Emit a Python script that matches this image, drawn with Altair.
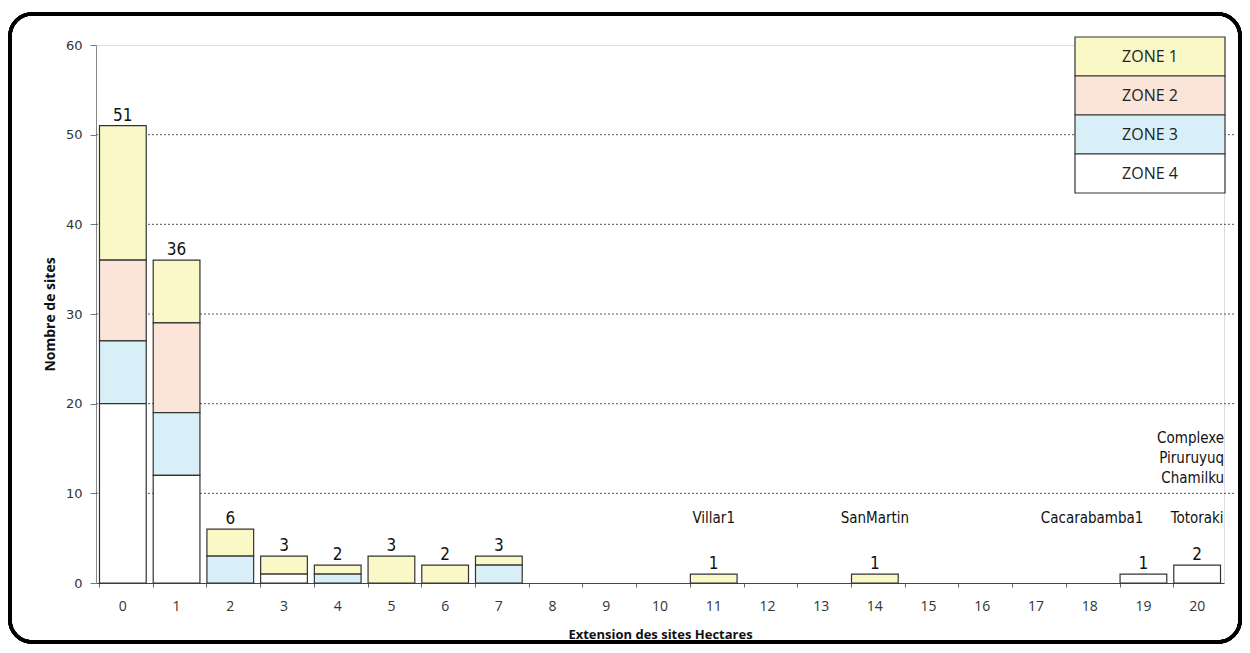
import altair as alt
import pandas as pd

# ---------------- data ----------------
categories = list(range(21))
zone_names = ["ZONE 1", "ZONE 2", "ZONE 3", "ZONE 4"]
zone1 = [15, 7, 3, 2, 1, 3, 2, 1, 0, 0, 0, 1, 0, 0, 1, 0, 0, 0, 0, 0, 0]
zone2 = [9, 10, 0, 0, 0, 0, 0, 0, 0, 0, 0, 0, 0, 0, 0, 0, 0, 0, 0, 0, 0]
zone3 = [7, 7, 3, 0, 1, 0, 0, 2, 0, 0, 0, 0, 0, 0, 0, 0, 0, 0, 0, 0, 0]
zone4 = [20, 12, 0, 1, 0, 0, 0, 0, 0, 0, 0, 0, 0, 0, 0, 0, 0, 0, 0, 1, 2]
zone_colors = ["#FAF8C6", "#FBE4D8", "#D9EFF7", "#FFFFFF"]

grid_values = [10, 20, 30, 40, 50]

ann_center_x = [11, 14, 20]
ann_center_y = [7.2, 7.2, 7.2]
ann_center_text = ["Villar1", "SanMartin", "Totoraki"]

ann_right_x = [19, 20, 20, 20]
ann_right_y = [7.2, 16.2, 13.95, 11.7]
ann_right_text = ["Cacarabamba1", "Complexe", "Piruruyuq", "Chamilku"]
ann_right_dx = [0, 27, 27, 27]

# ---------------- tables ----------------
rows = []
for zi, (zn, vals) in enumerate(zip(zone_names, [zone1, zone2, zone3, zone4])):
    for c, v in zip(categories, vals):
        if v > 0:
            rows.append({"size": c, "zone": zn, "count": v, "order": 4 - zi})
bars_df = pd.DataFrame(rows)

legend_df = pd.DataFrame({"zone": zone_names, "idx": list(range(4))})
grid_df = pd.DataFrame({"v": grid_values})
ann_c_df = pd.DataFrame({"size": ann_center_x, "y": ann_center_y, "t": ann_center_text})

narrow = "Liberation Sans Narrow, DejaVu Sans Condensed, sans-serif"

color_scale = alt.Scale(domain=zone_names, range=zone_colors)
x_enc = alt.X(
    "size:O",
    scale=alt.Scale(domain=categories, paddingInner=0.13, paddingOuter=0.065),
    axis=alt.Axis(
        title="Extension des sites Hectares",
        labelAngle=0,
        labelFont="Open Sans",
        labelFontSize=14,
        labelColor="#333",
        labelPadding=12,
        bandPosition=0,
        labelOverlap=False,
        labelBound=False,
        tickSize=4,
        tickColor="#666",
        domainColor="#444",
        titleFont="Open Sans",
        titleFontWeight="bold",
        titleFontSize=13,
        titleColor="#111",
        titlePadding=15,
    ),
)
y_scale = alt.Scale(domain=[0, 60])

grid = alt.Chart(grid_df).mark_rule(color="#555", strokeDash=[2, 2], strokeWidth=1).encode(
    y=alt.Y("v:Q", scale=y_scale),
    x=alt.value(0),
    x2=alt.value(1140),
)

bars = alt.Chart(bars_df).mark_bar(stroke="#333", strokeWidth=1.2).encode(
    x=x_enc,
    y=alt.Y(
        "sum(count):Q",
        scale=y_scale,
        stack="zero",
        axis=alt.Axis(
            title="Nombre de sites",
            values=[0, 10, 20, 30, 40, 50, 60],
            grid=False,
            labelFont="DejaVu Sans",
            labelFontSize=13,
            labelColor="#333",
            labelPadding=8,
            tickSize=6,
            tickColor="#777",
            domainColor="#888",
            titleFont="Open Sans",
            titleFontWeight="bold",
            titleFontSize=14,
            titleColor="#111",
            titlePadding=8,
        ),
    ),
    color=alt.Color("zone:N", scale=color_scale, legend=None),
    order=alt.Order("order:Q", sort="ascending"),
)

totals = alt.Chart(bars_df).transform_aggregate(
    total="sum(count)", groupby=["size"]
).mark_text(font=narrow, fontSize=17, color="#111", baseline="bottom", dy=-1).encode(
    x=alt.X("size:O"),
    y=alt.Y("total:Q", scale=y_scale),
    text="total:Q",
)

ann_c = alt.Chart(ann_c_df).mark_text(font=narrow, fontSize=15, color="#111", baseline="middle").encode(
    x=alt.X("size:O"),
    y=alt.Y("y:Q", scale=y_scale),
    text="t:N",
)

ann_layers = []
for x, y, t, dx in zip(ann_right_x, ann_right_y, ann_right_text, ann_right_dx):
    df = pd.DataFrame({"size": [x], "y": [y], "t": [t]})
    ann_layers.append(
        alt.Chart(df).mark_text(font=narrow, fontSize=15, color="#111", baseline="middle", align="right", dx=dx).encode(
            x=alt.X("size:O"),
            y=alt.Y("y:Q", scale=y_scale),
            text="t:N",
        )
    )

legend_box = alt.Chart(legend_df).transform_calculate(
    y0="-8 + datum.idx * 39", y1="31 + datum.idx * 39"
).mark_rect(stroke="#333", strokeWidth=1.2).encode(
    x=alt.value(979),
    x2=alt.value(1129),
    y=alt.Y("y0:Q", scale=None, axis=None),
    y2="y1:Q",
    color=alt.Color("zone:N", scale=color_scale, legend=None),
)
legend_text = alt.Chart(legend_df).transform_calculate(
    yc="11.5 + datum.idx * 39"
).mark_text(font="Open Sans", fontSize=16, color="#222", baseline="middle").encode(
    x=alt.value(1054),
    y=alt.Y("yc:Q", scale=None, axis=None),
    text="zone:N",
)

frame = alt.Chart(grid_df).mark_rect(
    fillOpacity=0, stroke="#000", strokeWidth=3.5, cornerRadius=22
).encode(
    x=alt.value(-86),
    x2=alt.value(1144),
    y=alt.value(-31),
    y2=alt.value(597),
)

chart = alt.layer(
    grid, bars, totals, ann_c, *ann_layers, legend_box, legend_text, frame
).properties(
    width=1128,
    height=538,
    autosize=alt.AutoSizeParams(type="none"),
    padding={"left": 88, "top": 37, "right": 18, "bottom": 62},
).configure_view(stroke=None).configure(background="white")

chart.save("out.html", embed_options={"renderer": "svg", "actions": False})
